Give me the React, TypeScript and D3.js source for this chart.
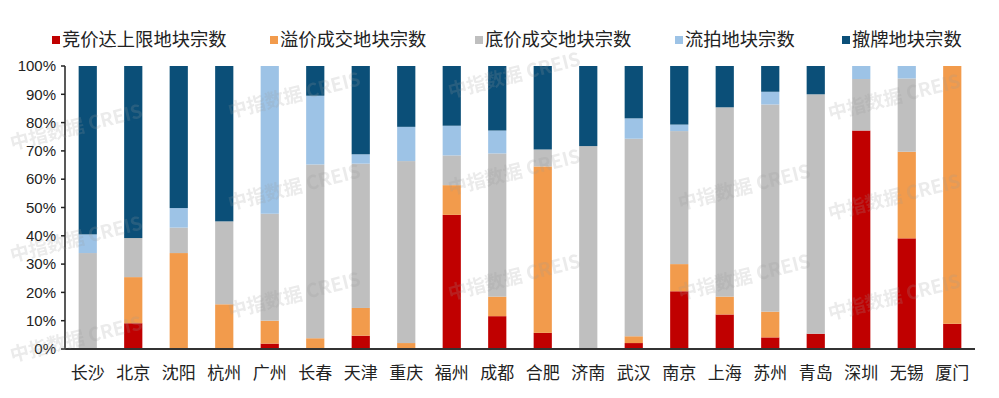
import React from "react";
import * as d3 from "d3";

const cities = ["长沙", "北京", "沈阳", "杭州", "广州", "长春", "天津", "重庆", "福州", "成都", "合肥", "济南", "武汉", "南京", "上海", "苏州", "青岛", "深圳", "无锡", "厦门"];

const seriesNames = ["竞价达上限地块宗数", "溢价成交地块宗数", "底价成交地块宗数", "流拍地块宗数", "撤牌地块宗数"];
const seriesColors = ["#C00000", "#F29B4C", "#BFBFBF", "#9DC3E6", "#0B4F78"];

// shares (%), per city
const capped = [0, 9.1, 0, 0, 1.9, 0, 4.7, 0, 47.4, 11.6, 5.7, 0, 2.1, 20.4, 12.2, 4.1, 5.4, 77.2, 39.1, 8.9];
const premium = [0, 16.3, 33.9, 15.8, 8.1, 3.8, 9.8, 2.1, 10.5, 6.9, 58.8, 0, 2.4, 9.6, 6.3, 9.1, 0, 0, 30.6, 91.1];
const basePrice = [33.9, 13.8, 9, 29.3, 37.8, 61.4, 51, 64.3, 10.5, 50.6, 6, 71.7, 69.8, 47, 66.9, 73.2, 84.6, 18.2, 25.9, 0];
const unsold = [6.6, 0, 6.9, 0, 52.2, 24.3, 3.3, 12.1, 10.5, 8.1, 0, 0, 7.2, 2.3, 0, 4.5, 0, 4.6, 4.4, 0];
const withdrawn = [59.5, 60.8, 50.2, 54.9, 0, 10.5, 31.2, 21.5, 21.1, 22.8, 29.5, 28.3, 18.5, 20.7, 14.6, 9.1, 10, 0, 0, 0];

const yTicks = [0, 0.1, 0.2, 0.3, 0.4, 0.5, 0.6, 0.7, 0.8, 0.9, 1];

const width = 999;
const height = 398;
const margin = { left: 65, right: 24, top: 66, bottom: 49 };
const font = "'Noto Sans CJK SC', 'Noto Sans', sans-serif";

const watermarks = [
  [230, 118], [450, 98],
  [12, 150], [230, 210], [450, 195], [680, 210], [830, 120],
  [12, 262], [230, 318], [450, 300], [680, 300], [830, 220],
  [12, 362], [830, 320],
];

export default function App() {
  const series = [capped, premium, basePrice, unsold, withdrawn];
  const rows = cities.map((c, i) => {
    const r: any = { city: c };
    seriesNames.forEach((s, k) => (r[s] = series[k][i]));
    return r;
  });

  const stacked = d3.stack<any>().keys(seriesNames).offset(d3.stackOffsetExpand)(rows);

  const plotW = width - margin.left - margin.right;
  const plotH = height - margin.top - margin.bottom;

  const xScale = d3.scaleBand().domain(cities).range([0, plotW]).paddingInner(0.6).paddingOuter(0.3);
  const yScale = d3.scaleLinear().domain([0, 1]).range([plotH, 0]);
  const pct = d3.format(".0%");

  // legend layout
  const legendX = [52, 270, 475, 675, 842];

  return (
    <svg width={width} height={height} style={{ position: "absolute", left: 0, top: 0, background: "#fff" }} fontFamily={font}>
      <g>
        {seriesNames.map((s, k) => (
          <g key={s} transform={`translate(${legendX[k]},40)`}>
            <rect x={0} y={-4} width={8} height={8} fill={seriesColors[k]} />
            <text x={10} y={0} dy="0.35em" fontSize={18.3} fill="#222">{s}</text>
          </g>
        ))}
      </g>
      <g transform={`translate(${margin.left},${margin.top})`}>
        {stacked.map((layer, k) => (
          <g key={layer.key} fill={seriesColors[k]}>
            {layer.map((d: any, i: number) => {
              const h = yScale(d[0]) - yScale(d[1]);
              if (h <= 0.01) return null;
              return (
                <rect key={i} x={xScale(cities[i])} y={yScale(d[1])} width={xScale.bandwidth()} height={h} />
              );
            })}
          </g>
        ))}
        <line x1={0} x2={0} y1={0} y2={plotH} stroke="#222" strokeWidth={1.5} />
        {yTicks.map((t) => (
          <g key={t} transform={`translate(0,${yScale(t)})`}>
            <line x1={-4} x2={0} stroke="#222" strokeWidth={1.5} />
            <text x={-9} dy="0.35em" textAnchor="end" fontSize={15} fill="#222" fontFamily="'Liberation Sans', Arial, sans-serif">{pct(t)}</text>
          </g>
        ))}
        <line x1={0} x2={plotW} y1={plotH} y2={plotH} stroke="#333" strokeWidth={2} />
        {cities.map((c) => (
          <text key={c} x={(xScale(c) as number) + xScale.bandwidth() / 2} y={plotH + 24} dy="0.35em" textAnchor="middle" fontSize={17} fill="#222">{c}</text>
        ))}
      </g>
      <g fontSize={19} fontWeight="bold" fill="#9a9a9a" opacity={0.2} pointerEvents="none">
        {watermarks.map(([x, y], i) => (
          <text key={i} transform={`translate(${x},${y}) rotate(-14)`}>中指数据  CREIS</text>
        ))}
      </g>
    </svg>
  );
}
